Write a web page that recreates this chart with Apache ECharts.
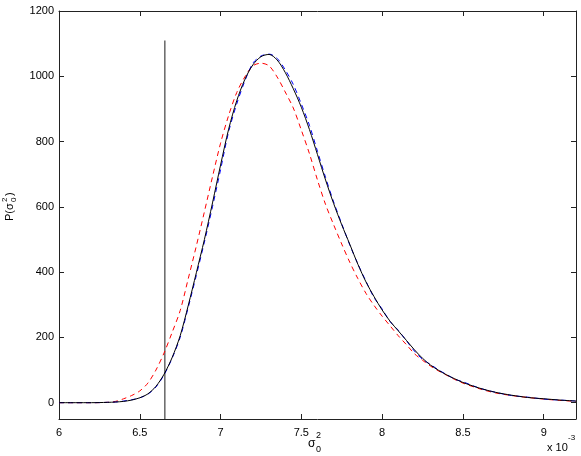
<!DOCTYPE html>
<html>
<head>
<meta charset="utf-8">
<script src="https://cdn.jsdelivr.net/npm/echarts@6/dist/echarts.min.js"></script>
<style>
html,body{margin:0;padding:0;background:#fff;}
#tubiao{width:581px;height:456px;}
</style>
</head>
<body>
<div id="tubiao"></div>
<script>
// sigma_0^2 (x 10^-3)
var xs = [6.00, 6.10, 6.20, 6.30, 6.35, 6.40, 6.45, 6.50, 6.55, 6.60, 6.65, 6.70, 6.75, 6.80, 6.85, 6.90, 6.95,
    7.00, 7.05, 7.10, 7.15, 7.20, 7.25, 7.30, 7.35, 7.40, 7.45, 7.50, 7.55, 7.60, 7.65, 7.70, 7.75, 7.80, 7.85,
    7.90, 7.95, 8.00, 8.05, 8.10, 8.15, 8.20, 8.25, 8.30, 8.35, 8.40, 8.45, 8.50, 8.60, 8.70, 8.80, 8.90, 9.00,
    9.10, 9.20];
// 黑色实线
var blackVals = [0, 0, 0, 1, 2, 4, 8, 15, 27, 50, 87, 138, 205, 298, 398, 500, 612,
    728, 838, 925, 990, 1035, 1060, 1067, 1050, 1012, 962, 905, 837, 760, 682, 610, 545, 485, 424,
    370, 325, 284, 249, 220, 191, 162, 136, 115, 99, 85, 73, 62, 45, 32, 23, 16, 12,
    8, 5];
// 蓝色虚线
var blueVals = [0, 0, 0, 1, 2, 5, 9, 15, 26, 48, 85, 136, 200, 292, 390, 492, 600,
    714, 830, 915, 985, 1040, 1062, 1068, 1055, 1020, 975, 915, 850, 770, 690, 615, 548, 483, 425,
    372, 322, 287, 248, 222, 190, 158, 133, 117, 100, 86, 72, 64, 45, 32, 22, 17, 11,
    8, 5];
// 红色虚线
var redVals = [0, 0, 0, 1, 4, 12, 22, 36, 60, 100, 152, 215, 282, 380, 480, 585, 692,
    795, 880, 950, 998, 1032, 1040, 1032, 998, 952, 903, 835, 763, 682, 607, 545, 486, 430, 380,
    335, 298, 265, 235, 205, 178, 150, 130, 112, 97, 84, 71, 60, 43, 30, 22, 16, 11,
    7, 4];
// 竖线
var vlineX = 6.655;
var vlineTop = 1110;
var vlineBottom = -50;

var xTicks = [6, 6.5, 7, 7.5, 8, 8.5, 9];
var yTicks = [0, 200, 400, 600, 800, 1000, 1200];

function pairs(vals) {
    var arr = [];
    for (var i = 0; i < xs.length; i++) {
        arr.push([xs[i], vals[i]]);
    }
    return arr;
}

var font = 'Liberation Sans, Arial, Helvetica, sans-serif';
var axisCol = '#222';

var myChart = echarts.init(document.getElementById('tubiao'));
var option = {
    backgroundColor: '#fff',
    animation: false,
    grid: {left: 59, right: 5, top: 11, bottom: 37},
    xAxis: [{
        type: 'value', min: 6, max: 9.2, position: 'bottom',
        axisLine: {show: true, onZero: false, lineStyle: {color: axisCol, width: 1}},
        axisTick: {show: true, inside: true, length: 5, customValues: xTicks, lineStyle: {color: axisCol}},
        axisLabel: {customValues: xTicks, color: '#000', fontFamily: font, fontSize: 11, margin: 8,
            formatter: function (v) { return String(v); }},
        splitLine: {show: false}
    }, {
        type: 'value', min: 6, max: 9.2, position: 'top',
        axisLine: {show: true, onZero: false, lineStyle: {color: axisCol, width: 1}},
        axisTick: {show: true, inside: true, length: 5, customValues: xTicks, lineStyle: {color: axisCol}},
        axisLabel: {show: false},
        splitLine: {show: false}
    }],
    yAxis: [{
        type: 'value', min: -50, max: 1200, position: 'left',
        axisLine: {show: true, onZero: false, lineStyle: {color: axisCol, width: 1}},
        axisTick: {show: true, inside: true, length: 5, customValues: yTicks, lineStyle: {color: axisCol}},
        axisLabel: {customValues: yTicks, color: '#000', fontFamily: font, fontSize: 11, margin: 5,
            formatter: function (v) { return String(v); }},
        splitLine: {show: false}
    }, {
        type: 'value', min: -50, max: 1200, position: 'right',
        axisLine: {show: true, onZero: false, lineStyle: {color: axisCol, width: 1}},
        axisTick: {show: true, inside: true, length: 5, customValues: yTicks, lineStyle: {color: axisCol}},
        axisLabel: {show: false},
        splitLine: {show: false}
    }],
    series: [{
        name: 'vline', type: 'line', symbol: 'none',
        data: [[vlineX, vlineBottom], [vlineX, vlineTop]],
        lineStyle: {color: '#666', width: 1.5}
    }, {
        name: 'red', type: 'line', symbol: 'none', smooth: 0.3,
        data: pairs(redVals),
        lineStyle: {color: '#ff0000', width: 1, type: [5, 4]}
    }, {
        name: 'blue', type: 'line', symbol: 'none', smooth: 0.3,
        data: pairs(blueVals),
        lineStyle: {color: '#0000ff', width: 1, type: [5, 4]}
    }, {
        name: 'black', type: 'line', symbol: 'none', smooth: 0.3,
        data: pairs(blackVals),
        lineStyle: {color: '#000', width: 1}
    }],
    graphic: [
        // x 轴标题
        {type: 'text', left: 308, top: 438, style: {text: 'σ', font: '12px ' + font, fill: '#000'}},
        {type: 'text', left: 316, top: 431, style: {text: '2', font: '9px ' + font, fill: '#000'}},
        {type: 'text', left: 316, top: 445, style: {text: '0', font: '9px ' + font, fill: '#000'}},
        // 倍数
        {type: 'text', left: 547, top: 442, style: {text: 'x 10', font: '11px ' + font, fill: '#000'}},
        {type: 'text', left: 568, top: 434, style: {text: '-3', font: '8px ' + font, fill: '#000'}},
        // y 轴标题
        {
            type: 'group', x: 10, y: 205, rotation: Math.PI / 2,
            children: [
                {type: 'text', x: -16, y: 0, style: {text: 'P(σ', font: '11px ' + font, fill: '#000', verticalAlign: 'middle'}},
                {type: 'text', x: 3, y: -5, style: {text: '2', font: '8px ' + font, fill: '#000', verticalAlign: 'middle'}},
                {type: 'text', x: 3, y: 4, style: {text: '0', font: '8px ' + font, fill: '#000', verticalAlign: 'middle'}},
                {type: 'text', x: 9, y: 0, style: {text: ')', font: '11px ' + font, fill: '#000', verticalAlign: 'middle'}}
            ]
        }
    ]
};
myChart.setOption(option);
</script>
</body>
</html>
